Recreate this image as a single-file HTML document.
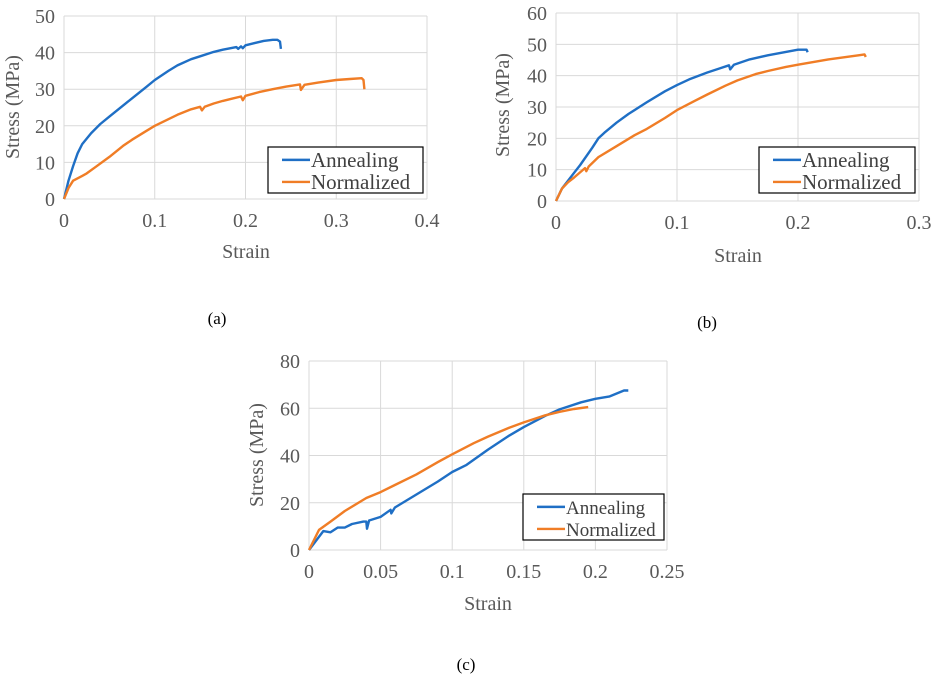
<!DOCTYPE html>
<html><head><meta charset="utf-8"><style>
body{margin:0;background:#fff;width:934px;height:683px;overflow:hidden}
svg{position:absolute;left:0;top:0}
text{font-family:"Liberation Serif","Times New Roman",Times,serif}
</style></head><body>
<svg id="s" width="934" height="683"></svg>
<script>
// Chart (a)
const aStrainAnn=[0,0.005,0.01,0.015,0.02,0.025,0.03,0.04,0.05,0.06,0.075,0.09,0.1,0.115,0.125,0.14,0.15,0.165,0.175,0.19,0.192,0.195,0.197,0.2,0.21,0.22,0.23,0.235,0.238,0.239];
const aStressAnn=[0,5,9,12.5,15,16.5,18,20.5,22.5,24.5,27.5,30.5,32.5,35,36.5,38.2,39,40.2,40.8,41.5,41,41.7,41.2,42,42.6,43.2,43.5,43.5,43,41];
const aStrainNor=[0,0.005,0.01,0.02,0.025,0.035,0.05,0.065,0.075,0.09,0.1,0.115,0.125,0.14,0.15,0.152,0.155,0.165,0.175,0.185,0.195,0.197,0.2,0.215,0.23,0.245,0.26,0.261,0.265,0.28,0.3,0.315,0.328,0.33,0.331];
const aStressNor=[0,3,5,6.3,7,8.8,11.5,14.5,16.2,18.5,20,21.8,23,24.5,25.2,24.2,25.2,26.1,26.8,27.4,28,27,28.2,29.2,30,30.7,31.3,29.8,31.2,31.8,32.5,32.8,33,32.5,30];
const aXTicks=[0,0.1,0.2,0.3,0.4];
const aYTicks=[0,10,20,30,40,50];
// Chart (b)
const bStrainAnn=[0,0.005,0.01,0.015,0.02,0.03,0.035,0.04,0.05,0.06,0.075,0.09,0.1,0.11,0.125,0.135,0.143,0.144,0.147,0.16,0.175,0.19,0.2,0.207,0.208];
const bStressAnn=[0,4,6.5,9,11.5,17,20,21.8,25,27.8,31.5,35,37,38.8,41,42.3,43.3,42,43.5,45.2,46.5,47.6,48.3,48.3,47.5];
const bStrainNor=[0,0.005,0.01,0.015,0.024,0.025,0.027,0.035,0.05,0.065,0.075,0.09,0.1,0.115,0.125,0.14,0.15,0.165,0.175,0.19,0.2,0.225,0.25,0.255,0.256];
const bStressNor=[0,4,6,7.5,10.5,9.5,11,14,17.5,21,23,26.5,29,32,34,36.8,38.5,40.5,41.5,42.8,43.5,45.2,46.5,46.8,46];
const bXTicks=[0,0.1,0.2,0.3];
const bYTicks=[0,10,20,30,40,50,60];
// Chart (c)
const cStrainAnn=[0,0.005,0.01,0.015,0.02,0.025,0.03,0.038,0.04,0.0405,0.042,0.05,0.057,0.0575,0.06,0.075,0.09,0.1,0.11,0.125,0.14,0.15,0.165,0.175,0.19,0.2,0.21,0.22,0.223];
const cStressAnn=[0,4,8,7.5,9.5,9.5,11,12,12,9,12.5,14,17,15.5,18,23.5,29,33,36,42.5,48.5,52,56.8,59.5,62.5,64,65,67.5,67.5];
const cStrainNor=[0,0.007,0.015,0.025,0.04,0.05,0.06,0.075,0.09,0.1,0.115,0.125,0.14,0.15,0.165,0.175,0.185,0.195];
const cStressNor=[0,8.5,12,16.5,22,24.5,27.5,32,37.2,40.5,45.2,48,51.8,54,57,58.5,59.7,60.5];
const cXTicks=[0,0.05,0.1,0.15,0.2,0.25];
const cYTicks=[0,20,40,60,80];

const NS="http://www.w3.org/2000/svg";
const svg=document.getElementById('s');
function mk(tag,attrs,parent,txt){const e=document.createElementNS(NS,tag);for(const k in attrs)e.setAttribute(k,attrs[k]);if(txt!==undefined){e.textContent=txt;e.style.fontFamily='"Liberation Serif","Times New Roman",Times,serif';}(parent||svg).appendChild(e);return e;}

function chart(id,L,R,T,B,xmax,ymax,xt,yt,series,leg,ytitle,xtitle,cap){
  const g=mk('g',{});
  
  
  const sx=v=>L+v/xmax*(R-L), sy=v=>B-v/ymax*(B-T);
  yt.forEach(v=>{const l=mk('line',{x1:L,x2:R,y1:sy(v),y2:sy(v),stroke:'#d9d9d9','stroke-width':1},g);
    
    const t=mk('text',{x:L-9,y:sy(v)+7,'text-anchor':'end','font-size':20,fill:'#595959'},g,String(v));
    });
  xt.forEach(v=>{const l=mk('line',{x1:sx(v),x2:sx(v),y1:T,y2:B,stroke:'#d9d9d9','stroke-width':1},g);
    
    const t=mk('text',{x:sx(v),y:B+28,'text-anchor':'middle','font-size':20,fill:'#595959'},g,String(v));
    });
  series.forEach(s=>{const d=s.x.map((v,i)=>(i?'L':'M')+sx(v).toFixed(1)+','+sy(s.y[i]).toFixed(1)).join('');
    const p=mk('path',{d:d,fill:'none',stroke:s.c,'stroke-width':2.4,'stroke-linejoin':'round'},g);
    });
  const lg=mk('g',{},g);
  mk('rect',{x:leg[0],y:leg[1],width:leg[2],height:leg[3],fill:'#fff',stroke:'#000','stroke-width':1.2},lg);
  series.forEach((s,i)=>{const yy=leg[1]+leg[3]*(0.28+0.48*i);
    mk('line',{x1:leg[0]+14,x2:leg[0]+42,y1:yy,y2:yy,stroke:s.c,'stroke-width':2.4},lg);
    const t=mk('text',{x:leg[0]+43,y:yy+7,'font-size':leg[4],fill:'#404040'},lg,s.label);
    });
  const yx=ytitle[0],yy=ytitle[1];
  const ytt=mk('text',{x:yx,y:yy,transform:`rotate(-90 ${yx} ${yy})`,'text-anchor':'middle','font-size':20,fill:'#595959'},g,'Stress (MPa)');
  
  const xtt=mk('text',{x:xtitle[0],y:xtitle[1],'text-anchor':'middle','font-size':20,fill:'#595959'},g,'Strain');
  
  const ct=mk('text',{x:cap[0],y:cap[1],'text-anchor':'middle','font-size':17,fill:'#000'},g,cap[2]);
  
}
const BL='#1f6fc5',OR='#f07d26';
chart('a',64,427,16,199,0.4,50,aXTicks,aYTicks,
 [{x:aStrainAnn,y:aStressAnn,c:BL,n:'annealing',label:'Annealing'},{x:aStrainNor,y:aStressNor,c:OR,n:'normalized',label:'Normalized'}],
 [268,147,155,46,21],[19,107],[246,258],[217,324,'(a)']);
chart('b',556,919,13,201,0.3,60,bXTicks,bYTicks,
 [{x:bStrainAnn,y:bStressAnn,c:BL,n:'annealing',label:'Annealing'},{x:bStrainNor,y:bStressNor,c:OR,n:'normalized',label:'Normalized'}],
 [759,147,156,46,21],[509,105],[738,262],[707,328,'(b)']);
chart('c',309,667,361,550,0.25,80,cXTicks,cYTicks,
 [{x:cStrainAnn,y:cStressAnn,c:BL,n:'annealing',label:'Annealing'},{x:cStrainNor,y:cStressNor,c:OR,n:'normalized',label:'Normalized'}],
 [523,494,141,46,19],[263,455],[488,610],[466,670,'(c)']);
</script>
</body></html>
